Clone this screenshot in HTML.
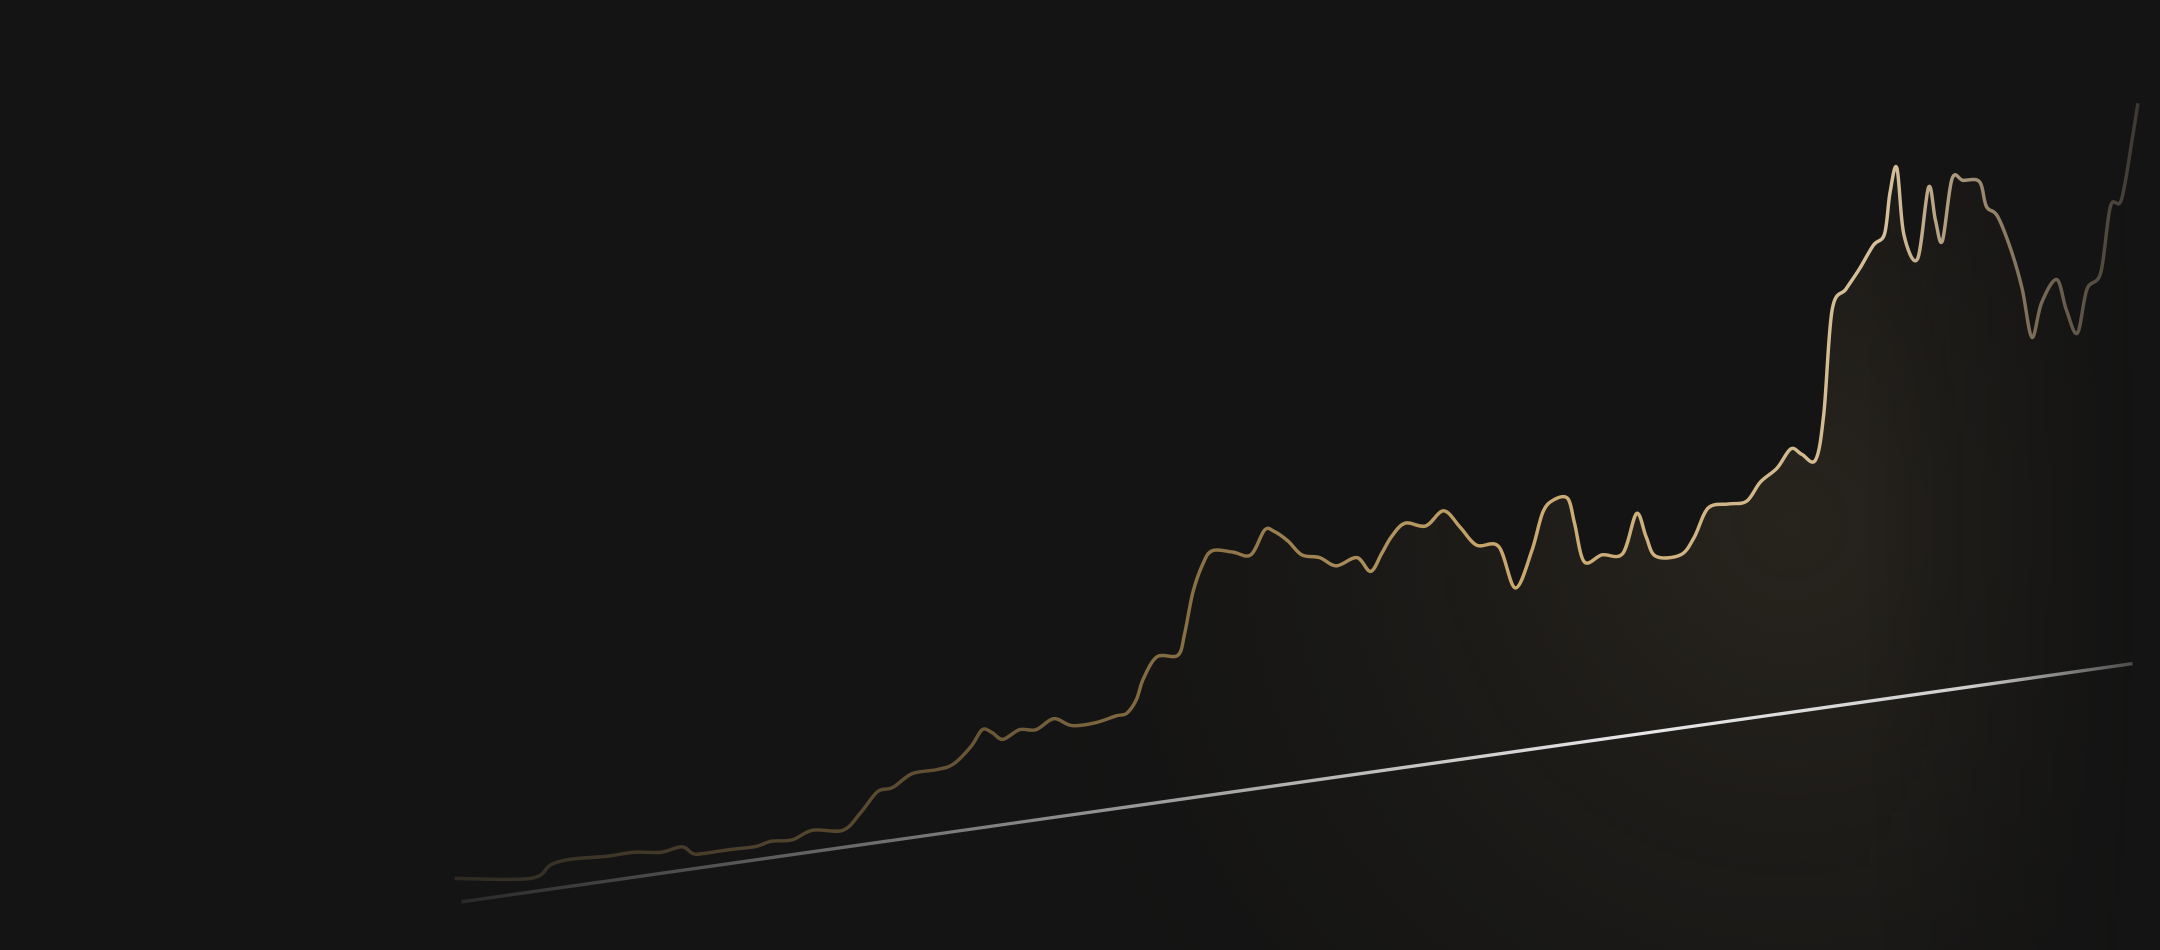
<!DOCTYPE html>
<html><head><meta charset="utf-8"><style>
html,body{margin:0;padding:0;background:#141414;overflow:hidden}
svg{display:block}
</style></head><body>
<svg id="chart" width="2160" height="950" viewBox="0 0 1568 690" preserveAspectRatio="none" xmlns="http://www.w3.org/2000/svg">
<defs>
<linearGradient id="lineGrad" gradientUnits="userSpaceOnUse" x1="330" y1="0" x2="1555" y2="0">
<stop offset="0" stop-color="#2e2a22"/>
<stop offset="0.25" stop-color="#5a4a30"/>
<stop offset="0.45" stop-color="#8c7346"/>
<stop offset="0.62" stop-color="#c9a76c"/>
<stop offset="0.85" stop-color="#d6c09a"/>
<stop offset="0.92" stop-color="#8a7a62"/>
<stop offset="1" stop-color="#3a3631"/>
</linearGradient>
<linearGradient id="trendGrad" gradientUnits="userSpaceOnUse" x1="335" y1="0" x2="1550" y2="0">
<stop offset="0" stop-color="#2a2a2a"/>
<stop offset="0.35" stop-color="#8a8a8a"/>
<stop offset="0.7" stop-color="#e8e8e8"/>
<stop offset="0.9" stop-color="#cfcfcf"/>
<stop offset="1" stop-color="#4a4a4a"/>
</linearGradient>
<radialGradient id="areaGrad" gradientUnits="userSpaceOnUse" cx="1300" cy="380" r="560">
<stop offset="0" stop-color="#c9a76c" stop-opacity="0.11"/>
<stop offset="0.6" stop-color="#c9a76c" stop-opacity="0.03"/>
<stop offset="1" stop-color="#c9a76c" stop-opacity="0"/>
</radialGradient>
<linearGradient id="maskGrad" gradientUnits="userSpaceOnUse" x1="1350" y1="0" x2="1555" y2="0">
<stop offset="0" stop-color="#fff"/>
<stop offset="1" stop-color="#000"/>
</linearGradient>
<mask id="areaMask" maskUnits="userSpaceOnUse" x="0" y="0" width="1568" height="690">
<rect x="0" y="0" width="1568" height="690" fill="url(#maskGrad)"/>
</mask>
</defs>
<rect x="0" y="0" width="1568" height="690" fill="#141414"/>
<g id="plot"></g>
</svg>
<script>
const days = [0,55,70,85,110,130,150,165,173,180,200,218,230,245,260,282,295,307,318,332,350,362,375,383,390,398,410,422,435,448,465,480,488,495,500,510,525,530,536,543,550,565,578,588,595,605,615,628,640,655,665,673,680,690,705,718,730,742,758,770,782,790,798,808,813,820,833,848,858,865,872,890,900,910,925,938,948,960,970,978,988,994,1000,1010,1020,1030,1038,1042,1047,1052,1062,1070,1075,1080,1087,1095,1107,1112,1120,1130,1138,1145,1152,1163,1170,1178,1185,1195,1202,1210,1218,1222];
const values = [22,22,32,36,38,41,41,45,40,40,43,45,49,50,57,57,70,85,88,98,101,105,118,130,128,123,130,130,138,133,135,140,142,152,167,183,184,200,230,250,260,259,257,275,274,267,257,255,249,255,245,258,270,280,278,289,277,264,263,233,260,288,297,298,280,252,257,258,287,270,256,257,270,291,294,296,310,320,334,330,326,360,435,450,465,482,490,520,538,490,472,524,500,485,530,529,528,510,503,478,450,415,440,457,435,418,450,462,510,515,560,585];
const trendStart = [5, 5];
const trendEnd = [1218, 178];

const X0 = 330, SX = 1, BASE = 660;
function xs(d){ return X0 + d*SX; }
function ys(v){ return BASE - v; }

const svgNS = "http://www.w3.org/2000/svg";
const plot = document.getElementById('plot');
const pts = days.map((d,i)=>[xs(d), ys(values[i])]);
function smooth(p){
  let s = "M"+p[0][0]+","+p[0][1];
  for(let i=0;i<p.length-1;i++){
    const p0=p[i-1]||p[i], p1=p[i], p2=p[i+1], p3=p[i+2]||p2;
    const c1=[p1[0]+(p2[0]-p0[0])/6, p1[1]+(p2[1]-p0[1])/6];
    const c2=[p2[0]-(p3[0]-p1[0])/6, p2[1]-(p3[1]-p1[1])/6];
    s+=" C"+c1[0].toFixed(1)+","+c1[1].toFixed(1)+" "+c2[0].toFixed(1)+","+c2[1].toFixed(1)+" "+p2[0].toFixed(1)+","+p2[1].toFixed(1);
  }
  return s;
}
const linePath = smooth(pts);
const area = document.createElementNS(svgNS,'path');


area.setAttribute('d', linePath+" L"+pts[pts.length-1][0]+",690 L"+pts[0][0]+",690 Z");
area.setAttribute('fill','url(#areaGrad)');
area.setAttribute('mask','url(#areaMask)');
plot.appendChild(area);

const trend = document.createElementNS(svgNS,'line');


trend.setAttribute('x1', xs(trendStart[0])); trend.setAttribute('y1', ys(trendStart[1]));
trend.setAttribute('x2', xs(trendEnd[0])); trend.setAttribute('y2', ys(trendEnd[1]));
trend.setAttribute('stroke','url(#trendGrad)');
trend.setAttribute('stroke-width','2.4');
plot.appendChild(trend);

const line = document.createElementNS(svgNS,'path');


line.setAttribute('d', linePath);
line.setAttribute('fill','none');
line.setAttribute('stroke','url(#lineGrad)');
line.setAttribute('stroke-width','2.5');
line.setAttribute('stroke-linejoin','round');
plot.appendChild(line);
</script>
</body></html>
